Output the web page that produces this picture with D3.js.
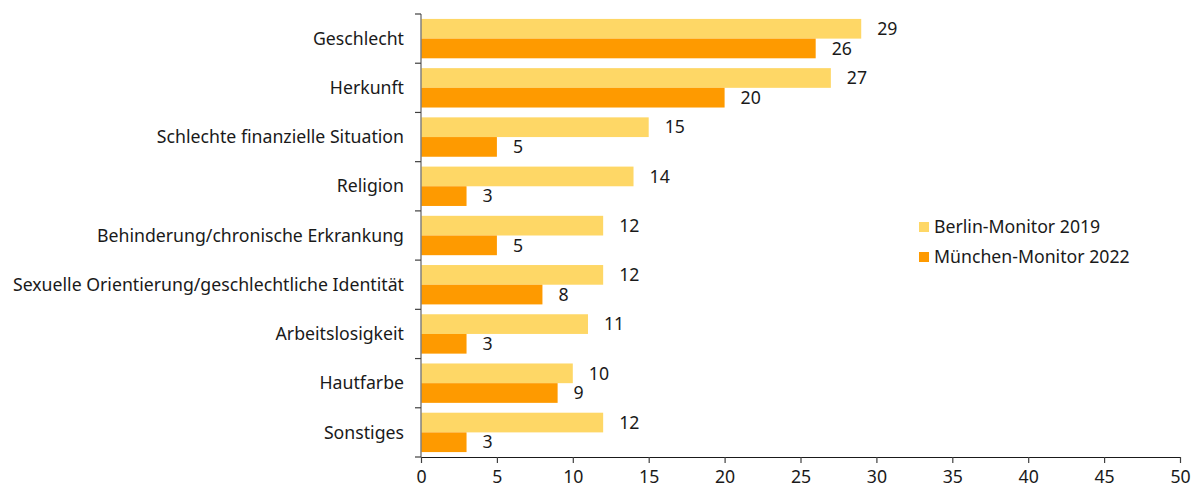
<!DOCTYPE html>
<html>
<head>
<meta charset="utf-8">
<script src="https://cdn.jsdelivr.net/npm/d3@7"></script>
<style>
  html, body { margin: 0; padding: 0; background: #fff; }
  svg text { font-family: "Noto Sans", sans-serif; fill: #1a1a1a; }
</style>
</head>
<body>
<svg id="chart" width="1194" height="487"></svg>
<script>
// Categories, top to bottom
const categories = [
  "Geschlecht",
  "Herkunft",
  "Schlechte finanzielle Situation",
  "Religion",
  "Behinderung/chronische Erkrankung",
  "Sexuelle Orientierung/geschlechtliche Identität",
  "Arbeitslosigkeit",
  "Hautfarbe",
  "Sonstiges"
];
const seriesNames = ["Berlin-Monitor 2019", "München-Monitor 2022"];
const berlin2019 = [29, 27, 15, 14, 12, 12, 11, 10, 12];
const muenchen2022 = [26, 20, 5, 3, 5, 8, 3, 9, 3];
const xTicks = [0, 5, 10, 15, 20, 25, 30, 35, 40, 45, 50];
const colors = ["#fed766", "#fe9a00"];

const FONT = 17.7;
const svg = d3.select("#chart");
const plotTop = 14, plotBottom = 457;

const x = d3.scaleLinear().domain([0, 50]).range([421, 1180]);
const y = d3.scaleBand().domain(categories).range([plotTop, plotBottom]);
const inner = d3.scaleBand().domain([0, 1]).range([0, y.bandwidth()]).paddingOuter(0.25).paddingInner(0);

const series = [berlin2019, muenchen2022];

const groups = svg.append("g").selectAll("g")
  .data(categories)
  .join("g")
  .attr("transform", d => `translate(0,${y(d)})`);

series.forEach((vals, si) => {
  groups.append("rect")
    .attr("x", x(0))
    .attr("y", inner(si))
    .attr("width", (d, i) => x(vals[i]) - x(0))
    .attr("height", inner.bandwidth())
    .attr("fill", colors[si]);
  groups.append("text")
    .attr("x", (d, i) => x(vals[i]) + 16)
    .attr("y", inner(si) + inner.bandwidth() / 2)
    .attr("dy", "0.35em")
    .attr("font-size", FONT)
    .text((d, i) => vals[i]);
});

// Category axis with ticks between bands
const yAxisG = svg.append("g");
yAxisG.append("line")
  .attr("x1", x(0)).attr("x2", x(0))
  .attr("y1", plotTop).attr("y2", plotBottom)
  .attr("stroke", "#808080").attr("stroke-width", 1.5);
const boundaries = d3.range(categories.length + 1).map(i => plotTop + i * y.step());
yAxisG.selectAll("line.tick").data(boundaries).join("line")
  .attr("class", "tick")
  .attr("x1", x(0) - 6).attr("x2", x(0))
  .attr("y1", d => d).attr("y2", d => d)
  .attr("stroke", "#404040").attr("stroke-width", 1.2);
yAxisG.selectAll("text").data(categories).join("text")
  .attr("x", 404)
  .attr("y", d => y(d) + y.bandwidth() / 2)
  .attr("dy", "0.35em")
  .attr("text-anchor", "end")
  .attr("font-size", FONT)
  .text(d => d);

// Value axis
const xAxis = d3.axisBottom(x).tickValues(xTicks).tickSize(6).tickSizeOuter(0).tickPadding(7);
const xg = svg.append("g").attr("transform", `translate(0,${plotBottom})`).call(xAxis);
xg.select(".domain").attr("stroke", "#1a1a1a").attr("stroke-width", 1.2);
xg.selectAll(".tick line").attr("stroke", "#404040").attr("stroke-width", 1.2);
xg.selectAll(".tick text").attr("font-size", FONT).attr("font-family", "Noto Sans, sans-serif").attr("fill", "#1a1a1a");

// Legend
const legend = svg.append("g").attr("transform", "translate(919,222)");
seriesNames.forEach((name, i) => {
  const g = legend.append("g").attr("transform", `translate(0,${i * 30})`);
  g.append("rect").attr("width", 10).attr("height", 10).attr("fill", colors[i]);
  g.append("text").attr("x", 15).attr("y", 5).attr("dy", "0.35em").attr("font-size", FONT).text(name);
});
</script>
</body>
</html>
